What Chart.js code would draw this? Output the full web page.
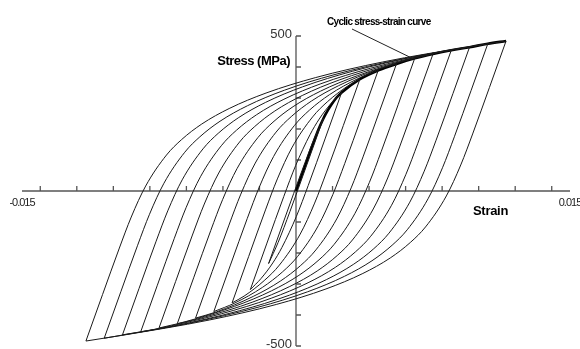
<!DOCTYPE html>
<html>
<head>
<meta charset="utf-8">
<script src="https://cdn.jsdelivr.net/npm/chart.js@4"></script>
<style>
html,body{margin:0;padding:0;background:#fff}
</style>
</head>
<body>
<canvas id="c" width="580" height="349"></canvas>
<script>
// axis ticks
const strainTicks = [-0.014,-0.012,-0.01,-0.008,-0.006,-0.004,-0.002,0.002,0.004,0.006,0.008,0.01,0.012,0.014];
const stressTicks = [-500,-400,-300,-200,-100,100,200,300,400,500];
const strainLabels = [-0.015, 0.015];
const stressLabels = [500, -500];

// cyclic stress-strain curve (strain, MPa)
const cyclicCurve = [[0,0],[0.0005,82],[0.000915,150],[0.00124,200],[0.0015,234],[0.00164,250],[0.0022,300],[0.0025,318],[0.0035,361],[0.0045,389],[0.0055,410],[0.0065,428],[0.0075,442],[0.0085,454],[0.0095,464],[0.0105,475],[0.0115,484]];

// hysteresis loops, unloading branch then reloading branch
const down1 = [[0.0115,484],[0.01059,334],[0.00967,184],[0.00902,84],[0.00823,-16],[0.00709,-116],[0.00626,-166],[0.00516,-216],[0.00366,-266],[0.00164,-316],[-0.00108,-366],[-0.00473,-416],[-0.00957,-466],[-0.0115,-484]];
const up1 = [[-0.0115,-484],[-0.01059,-334],[-0.00967,-184],[-0.00902,-84],[-0.00823,16],[-0.00709,116],[-0.00626,166],[-0.00516,216],[-0.00366,266],[-0.00164,316],[0.00108,366],[0.00473,416],[0.00957,466],[0.0115,484]];
const down2 = [[0.0105,475],[0.00959,325],[0.00867,175],[0.00802,75],[0.00723,-25],[0.00609,-125],[0.00526,-175],[0.00416,-225],[0.00266,-275],[0.00064,-325],[-0.00208,-375],[-0.00573,-425],[-0.0105,-475]];
const up2 = [[-0.0105,-475],[-0.00959,-325],[-0.00867,-175],[-0.00802,-75],[-0.00723,25],[-0.00609,125],[-0.00526,175],[-0.00416,225],[-0.00266,275],[-0.00064,325],[0.00208,375],[0.00573,425],[0.0105,475]];
const down3 = [[0.0095,464],[0.00859,314],[0.00767,164],[0.00702,64],[0.00623,-36],[0.00509,-136],[0.00426,-186],[0.00316,-236],[0.00166,-286],[-0.00036,-336],[-0.00308,-386],[-0.00673,-436],[-0.0095,-464]];
const up3 = [[-0.0095,-464],[-0.00859,-314],[-0.00767,-164],[-0.00702,-64],[-0.00623,36],[-0.00509,136],[-0.00426,186],[-0.00316,236],[-0.00166,286],[0.00036,336],[0.00308,386],[0.00673,436],[0.0095,464]];
const down4 = [[0.0085,454],[0.00759,304],[0.00667,154],[0.00602,54],[0.00523,-46],[0.00409,-146],[0.00326,-196],[0.00216,-246],[0.00066,-296],[-0.00136,-346],[-0.00408,-396],[-0.00773,-446],[-0.0085,-454]];
const up4 = [[-0.0085,-454],[-0.00759,-304],[-0.00667,-154],[-0.00602,-54],[-0.00523,46],[-0.00409,146],[-0.00326,196],[-0.00216,246],[-0.00066,296],[0.00136,346],[0.00408,396],[0.00773,446],[0.0085,454]];
const down5 = [[0.0075,442],[0.00659,292],[0.00567,142],[0.00502,42],[0.00423,-58],[0.00309,-158],[0.00226,-208],[0.00116,-258],[-0.00034,-308],[-0.00236,-358],[-0.00508,-408],[-0.0075,-442]];
const up5 = [[-0.0075,-442],[-0.00659,-292],[-0.00567,-142],[-0.00502,-42],[-0.00423,58],[-0.00309,158],[-0.00226,208],[-0.00116,258],[0.00034,308],[0.00236,358],[0.00508,408],[0.0075,442]];
const down6 = [[0.0065,428],[0.00559,278],[0.00467,128],[0.00402,28],[0.00323,-72],[0.00209,-172],[0.00126,-222],[0.00016,-272],[-0.00134,-322],[-0.00336,-372],[-0.00608,-422],[-0.0065,-428]];
const up6 = [[-0.0065,-428],[-0.00559,-278],[-0.00467,-128],[-0.00402,-28],[-0.00323,72],[-0.00209,172],[-0.00126,222],[-0.00016,272],[0.00134,322],[0.00336,372],[0.00608,422],[0.0065,428]];
const down7 = [[0.0055,410],[0.00459,260],[0.00367,110],[0.00302,10],[0.00223,-90],[0.00109,-190],[0.00026,-240],[-0.00084,-290],[-0.00234,-340],[-0.00436,-390],[-0.0055,-410]];
const up7 = [[-0.0055,-410],[-0.00459,-260],[-0.00367,-110],[-0.00302,-10],[-0.00223,90],[-0.00109,190],[-0.00026,240],[0.00084,290],[0.00234,340],[0.00436,390],[0.0055,410]];
const down8 = [[0.0045,389],[0.00359,239],[0.00267,89],[0.00202,-11],[0.00123,-111],[0.00009,-211],[-0.00074,-261],[-0.00184,-311],[-0.00334,-361],[-0.0045,-389]];
const up8 = [[-0.0045,-389],[-0.00359,-239],[-0.00267,-89],[-0.00202,11],[-0.00123,111],[-0.00009,211],[0.00074,261],[0.00184,311],[0.00334,361],[0.0045,389]];
const down9 = [[0.0035,361],[0.00259,211],[0.00167,61],[0.00102,-39],[0.00023,-139],[-0.00091,-239],[-0.00174,-289],[-0.00284,-339],[-0.0035,-361]];
const up9 = [[-0.0035,-361],[-0.00259,-211],[-0.00167,-61],[-0.00102,39],[-0.00023,139],[0.00091,239],[0.00174,289],[0.00284,339],[0.0035,361]];
const down10 = [[0.0025,318],[0.00159,168],[0.00067,18],[0.00002,-82],[-0.00077,-182],[-0.00127,-232],[-0.00191,-282],[-0.0025,-318]];
const up10 = [[-0.0025,-318],[-0.00159,-168],[-0.00067,-18],[-0.00002,82],[0.00077,182],[0.00127,232],[0.00191,282],[0.0025,318]];
const down11 = [[0.0015,234],[0.00059,84],[-0.00033,-66],[-0.00098,-166],[-0.0015,-234]];
const up11 = [[-0.0015,-234],[-0.00059,-84],[0.00033,66],[0.00098,166],[0.0015,234]];

const branches = [down1,up1,down2,up2,down3,up3,down4,up4,down5,up5,down6,up6,
  down7,up7,down8,up8,down9,up9,down10,up10,down11,up11];

const toXY = arr => arr.map(([x, y]) => ({x, y}));

const datasets = branches.map(b => ({
  data: toXY(b), showLine: true, pointRadius: 0, borderColor: '#1a1a1a',
  borderWidth: 1, cubicInterpolationMode: 'monotone'
}));
datasets.push({
  data: toXY(cyclicCurve), showLine: true, pointRadius: 0, borderColor: '#000',
  borderWidth: 2.6, cubicInterpolationMode: 'monotone'
});

function txt(ctx, s, x, y, font, align, spacing, color) {
  ctx.font = font; ctx.textAlign = align; ctx.textBaseline = 'middle';
  ctx.letterSpacing = spacing || '0px';
  ctx.fillStyle = color || '#000';
  ctx.fillText(s, x, y);
}

const axesPlugin = {
  id: 'axes',
  beforeDatasetsDraw(chart) {
    const {ctx, scales: {x, y}} = chart;
    const x0 = x.getPixelForValue(0), y0 = y.getPixelForValue(0);
    ctx.save();
    ctx.strokeStyle = '#555'; ctx.lineWidth = 1.3;
    ctx.beginPath();
    ctx.moveTo(x.getPixelForValue(-0.015), y0); ctx.lineTo(x.getPixelForValue(0.015), y0);
    ctx.moveTo(x0, y.getPixelForValue(500)); ctx.lineTo(x0, y.getPixelForValue(-500));
    strainTicks.forEach(v => { const px = x.getPixelForValue(v); ctx.moveTo(px, y0); ctx.lineTo(px, y0 - 5); });
    stressTicks.forEach(v => { const py = y.getPixelForValue(v); ctx.moveTo(x0, py); ctx.lineTo(x0 + 5, py); });
    ctx.stroke();
    ctx.restore();
  },
  afterDraw(chart) {
    const {ctx, scales: {x, y}} = chart;
    const x0 = x.getPixelForValue(0), y0 = y.getPixelForValue(0);
    ctx.save();
    stressLabels.forEach(v => txt(ctx, String(v), x0 - 4, y.getPixelForValue(v) - 2,
      '13px "Liberation Sans"', 'right', '0px', '#333'));
    strainLabels.forEach(v => txt(ctx, String(v), x.getPixelForValue(v), y0 + 12,
      '11px "Liberation Sans"', 'center', '-1px', '#222'));
    txt(ctx, 'Stress (MPa)', x0 - 6, 61, 'bold 13px "Liberation Sans"', 'right', '-0.5px');
    txt(ctx, 'Strain', 473, 211, 'bold 13px "Liberation Sans"', 'left', '-0.3px');
    txt(ctx, 'Cyclic stress-strain curve', 327, 22, 'bold 10px "Liberation Sans"', 'left', '-0.7px');
    // leader to the cyclic curve
    ctx.strokeStyle = '#222'; ctx.lineWidth = 1;
    ctx.beginPath();
    ctx.moveTo(352, 29);
    ctx.lineTo(x.getPixelForValue(0.0064), y.getPixelForValue(427));
    ctx.stroke();
    ctx.restore();
  }
};

new Chart(document.getElementById('c'), {
  type: 'scatter',
  data: { datasets },
  options: {
    responsive: false, animation: false, devicePixelRatio: 1,
    layout: { padding: { left: 22, right: 10, top: 36, bottom: 3 } },
    plugins: { legend: { display: false }, tooltip: { enabled: false } },
    scales: {
      x: { type: 'linear', min: -0.015, max: 0.015, display: false },
      y: { type: 'linear', min: -500, max: 500, display: false }
    }
  },
  plugins: [axesPlugin]
});
</script>
</body>
</html>
